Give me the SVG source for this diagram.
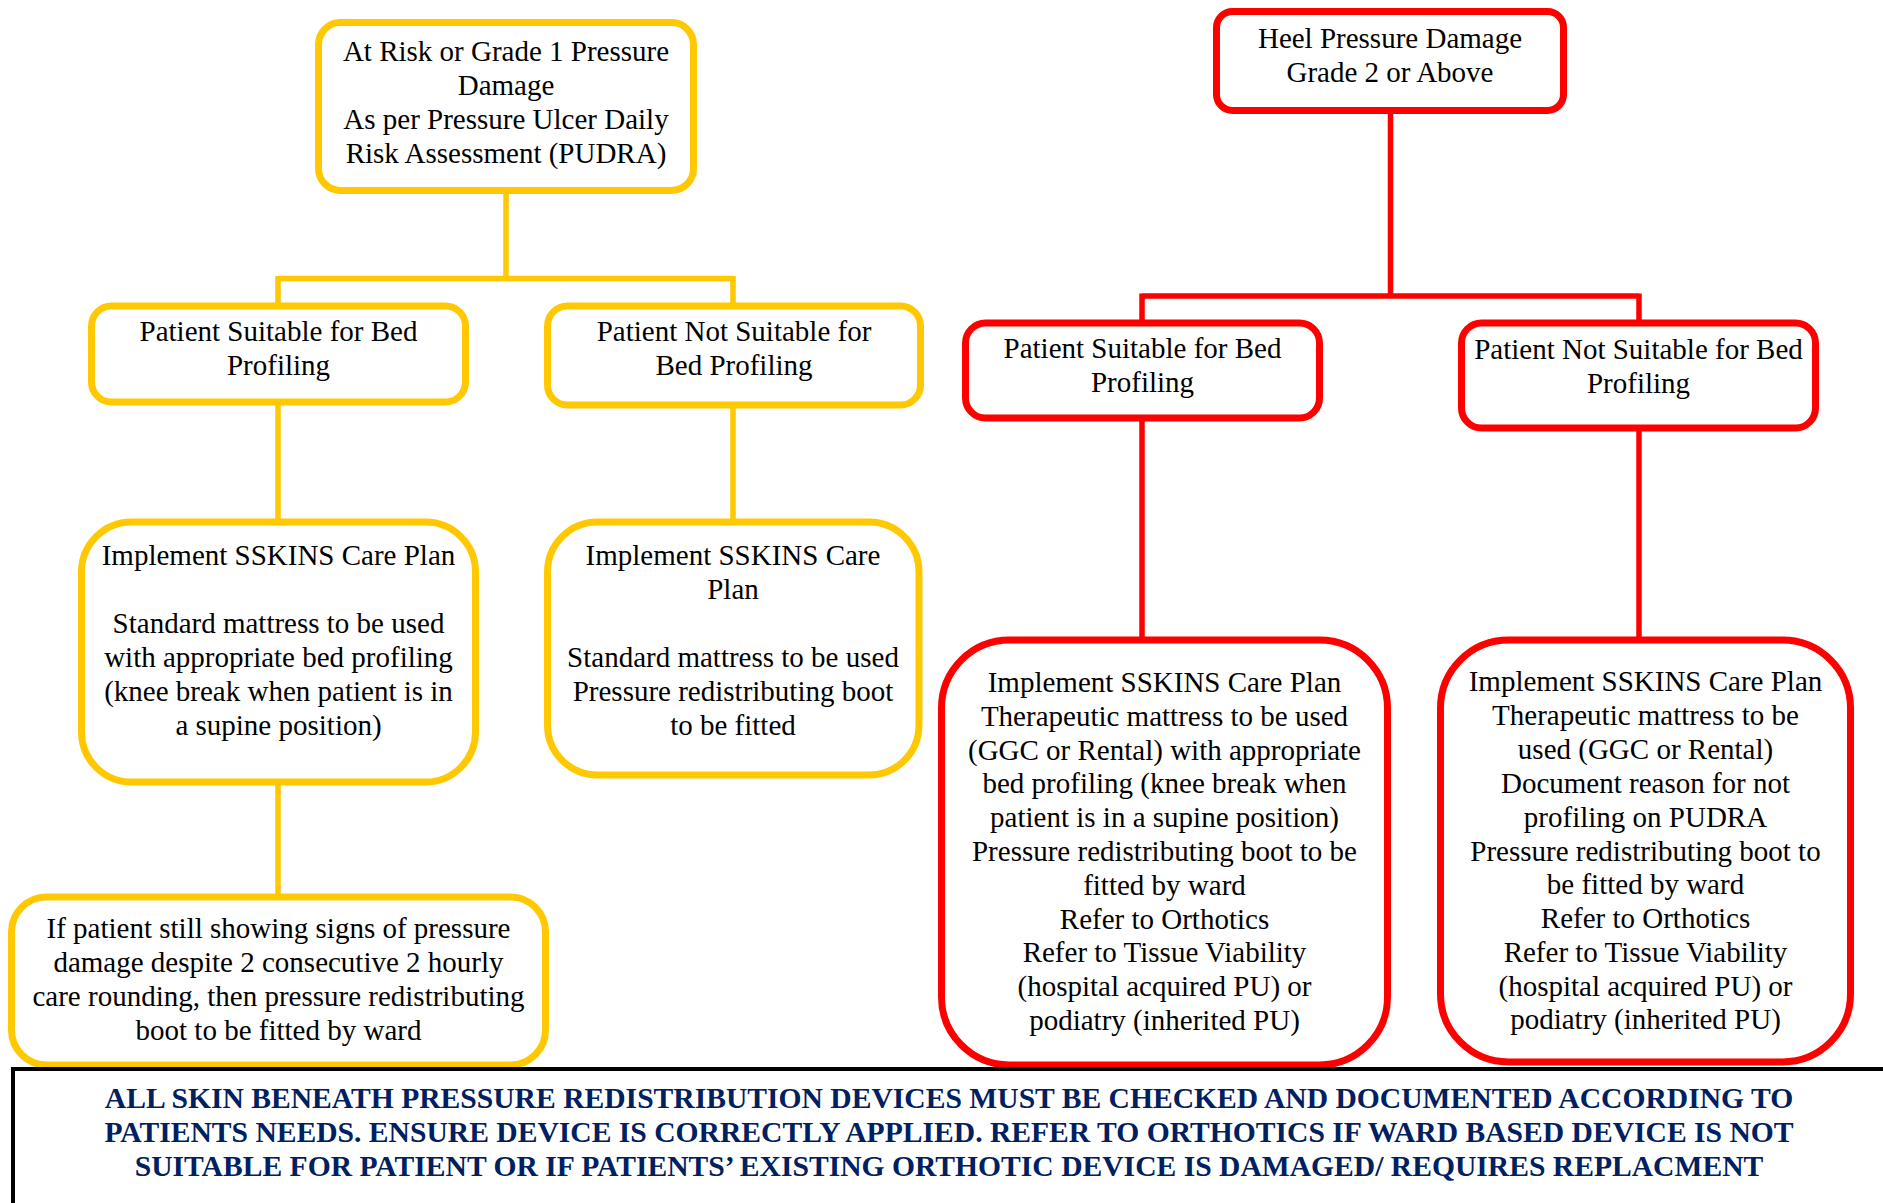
<svg xmlns="http://www.w3.org/2000/svg" width="1883" height="1203" viewBox="0 0 1883 1203">
<style>
.bg{fill:#ffffff}
.y{fill:#ffffff;stroke:#FFC800;stroke-width:7}
.r{fill:#ffffff;stroke:#FF0000;stroke-width:7}
.cy{stroke:#FFC800;stroke-width:5.5;fill:none}
.cr{stroke:#FF0000;stroke-width:5.5;fill:none}
.t{font-family:"Liberation Serif","Times New Roman",serif;font-size:29px;fill:#000000;text-anchor:middle}
.b{font-family:"Liberation Serif","Times New Roman",serif;font-size:29.6px;font-weight:bold;fill:#002060;text-anchor:middle}
</style>
<rect class="bg" x="0" y="0" width="1883" height="1203"/>
<g id="connectors">
<path class="cy" d="M506 193 V278.5 M278 278.5 H733 M278 276 V305 M733 276 V305 M278 404 V521 M733 407 V521 M278 784 V896"/>
<path class="cr" d="M1390.5 113 V296 M1142 296 H1639 M1142 293.5 V322 M1639 293.5 V322 M1142 420 V639 M1639 430 V639"/>
</g>
<g id="y-top">
<rect class="y" x="318.5" y="22.5" width="375" height="168" rx="22"/>
<text class="t" x="506" y="61">At Risk or Grade 1 Pressure</text>
<text class="t" x="506" y="95">Damage</text>
<text class="t" x="506" y="129">As per Pressure Ulcer Daily</text>
<text class="t" x="506" y="163">Risk Assessment (PUDRA)</text>
</g>
<g id="y-suitable">
<rect class="y" x="91.5" y="306" width="374" height="96" rx="20"/>
<text class="t" x="278.5" y="341">Patient Suitable for Bed</text>
<text class="t" x="278.5" y="375">Profiling</text>
</g>
<g id="y-notsuitable">
<rect class="y" x="547.5" y="306" width="373" height="99" rx="20"/>
<text class="t" x="734" y="341">Patient Not Suitable for</text>
<text class="t" x="734" y="375">Bed Profiling</text>
</g>
<g id="y-sskins-left">
<rect class="y" x="81.5" y="522" width="394" height="260" rx="50"/>
<text class="t" x="278.5" y="565">Implement SSKINS Care Plan</text>
<text class="t" x="278.5" y="633">Standard mattress to be used</text>
<text class="t" x="278.5" y="667">with appropriate bed profiling</text>
<text class="t" x="278.5" y="701">(knee break when patient is in</text>
<text class="t" x="278.5" y="735">a supine position)</text>
</g>
<g id="y-sskins-right">
<rect class="y" x="547.5" y="522" width="371.5" height="253" rx="50"/>
<text class="t" x="733" y="565">Implement SSKINS Care</text>
<text class="t" x="733" y="599">Plan</text>
<text class="t" x="733" y="667">Standard mattress to be used</text>
<text class="t" x="733" y="701">Pressure redistributing boot</text>
<text class="t" x="733" y="735">to be fitted</text>
</g>
<g id="y-bottom">
<rect class="y" x="11.5" y="897" width="534" height="168" rx="35"/>
<text class="t" x="278.5" y="938">If patient still showing signs of pressure</text>
<text class="t" x="278.5" y="972">damage despite 2 consecutive 2 hourly</text>
<text class="t" x="278.5" y="1006">care rounding, then pressure redistributing</text>
<text class="t" x="278.5" y="1040">boot to be fitted by ward</text>
</g>
<g id="r-top">
<rect class="r" x="1216.5" y="11.5" width="347" height="99" rx="16"/>
<text class="t" x="1390" y="48">Heel Pressure Damage</text>
<text class="t" x="1390" y="82">Grade 2 or Above</text>
</g>
<g id="r-suitable">
<rect class="r" x="965.5" y="323" width="354" height="95" rx="20"/>
<text class="t" x="1142.5" y="358">Patient Suitable for Bed</text>
<text class="t" x="1142.5" y="392">Profiling</text>
</g>
<g id="r-notsuitable">
<rect class="r" x="1461.5" y="323" width="354" height="105" rx="20"/>
<text class="t" x="1638.5" y="359">Patient Not Suitable for Bed</text>
<text class="t" x="1638.5" y="393">Profiling</text>
</g>
<g id="r-sskins-left">
<rect class="r" x="941.5" y="640" width="446" height="425" rx="68"/>
<text class="t" x="1164.5" y="692">Implement SSKINS Care Plan</text>
<text class="t" x="1164.5" y="726">Therapeutic mattress to be used</text>
<text class="t" x="1164.5" y="760">(GGC or Rental) with appropriate</text>
<text class="t" x="1164.5" y="793">bed profiling (knee break when</text>
<text class="t" x="1164.5" y="827">patient is in a supine position)</text>
<text class="t" x="1164.5" y="861">Pressure redistributing boot to be</text>
<text class="t" x="1164.5" y="895">fitted by ward</text>
<text class="t" x="1164.5" y="929">Refer to Orthotics</text>
<text class="t" x="1164.5" y="962">Refer to Tissue Viability</text>
<text class="t" x="1164.5" y="996">(hospital acquired PU) or</text>
<text class="t" x="1164.5" y="1030">podiatry (inherited PU)</text>
</g>
<g id="r-sskins-right">
<rect class="r" x="1440.5" y="640" width="410" height="422" rx="68"/>
<text class="t" x="1645.5" y="691">Implement SSKINS Care Plan</text>
<text class="t" x="1645.5" y="725">Therapeutic mattress to be</text>
<text class="t" x="1645.5" y="759">used (GGC or Rental)</text>
<text class="t" x="1645.5" y="793">Document reason for not</text>
<text class="t" x="1645.5" y="827">profiling on PUDRA</text>
<text class="t" x="1645.5" y="861">Pressure redistributing boot to</text>
<text class="t" x="1645.5" y="894">be fitted by ward</text>
<text class="t" x="1645.5" y="928">Refer to Orthotics</text>
<text class="t" x="1645.5" y="962">Refer to Tissue Viability</text>
<text class="t" x="1645.5" y="996">(hospital acquired PU) or</text>
<text class="t" x="1645.5" y="1029">podiatry (inherited PU)</text>
</g>
<g id="note">
<rect x="13" y="1069" width="1900" height="200" fill="#ffffff" stroke="#000000" stroke-width="4"/>
<text class="b" x="949" y="1108">ALL SKIN BENEATH PRESSURE REDISTRIBUTION DEVICES MUST BE CHECKED AND DOCUMENTED ACCORDING TO</text>
<text class="b" x="949" y="1142">PATIENTS NEEDS. ENSURE DEVICE IS CORRECTLY APPLIED. REFER TO ORTHOTICS IF WARD BASED DEVICE IS NOT</text>
<text class="b" x="949" y="1176">SUITABLE FOR PATIENT OR IF PATIENTS’ EXISTING ORTHOTIC DEVICE IS DAMAGED/ REQUIRES REPLACMENT</text>
</g>
</svg>
